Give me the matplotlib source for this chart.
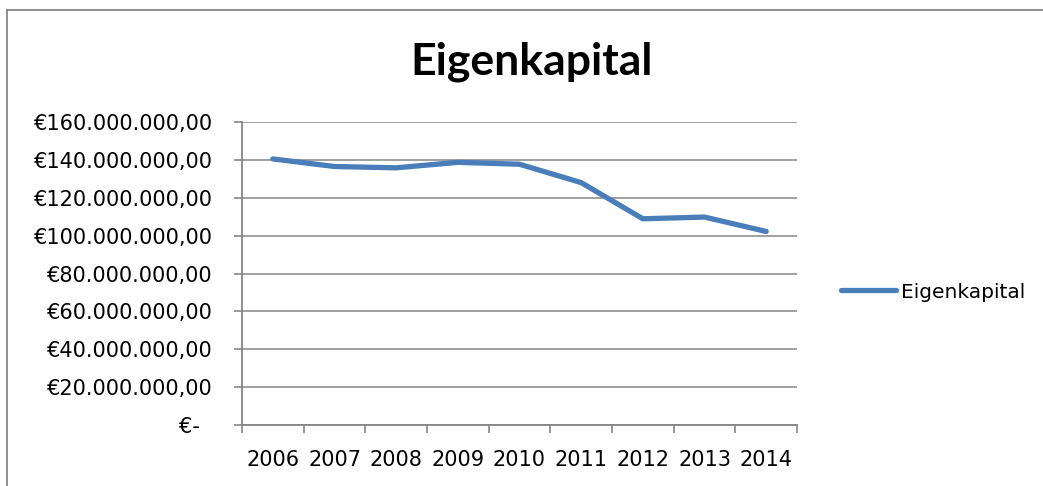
import matplotlib
matplotlib.use("Agg")
import matplotlib.pyplot as plt
from matplotlib.lines import Line2D

# data
years = ["2006", "2007", "2008", "2009", "2010", "2011", "2012", "2013", "2014"]
eigenkapital = [140.5e6, 136.5e6, 135.8e6, 138.7e6, 137.7e6, 128.0e6, 108.9e6, 109.8e6, 102.2e6]
y_ticks = [0, 20e6, 40e6, 60e6, 80e6, 100e6, 120e6, 140e6, 160e6]

plt.rcParams["font.family"] = ["DejaVu Sans"]

def euro(v):
    if v == 0:
        return "€-  "
    s = f"{v:,.2f}"  # 160,000,000.00
    s = s.replace(",", "X").replace(".", ",").replace("X", ".")
    return "€" + s

W, H = 1043, 486
fig = plt.figure(figsize=(W / 100, H / 100), dpi=100)
ax = fig.add_axes([242 / W, 1 - 425 / H, (797 - 242) / W, (425 - 122) / H])

xs = list(range(len(years)))
line, = ax.plot(xs, eigenkapital, color="#4a7ebb", lw=3.8, solid_capstyle="round",
                solid_joinstyle="round", label="Eigenkapital")

ax.set_xlim(-0.5, len(years) - 0.5)
ax.set_ylim(0, 160e6)
ax.set_yticks(y_ticks)
ax.set_yticklabels([euro(v) for v in y_ticks], fontsize=15)
ax.set_xticks(xs)
ax.set_xticklabels(years, fontsize=15)
ax.tick_params(axis="x", length=0, pad=18)
ax.set_xticks([i - 0.5 for i in range(len(years) + 1)], minor=True)
ax.tick_params(axis="x", which="minor", length=6, width=1.2, color="#868686", direction="out")
ax.tick_params(axis="y", length=6, width=1.2, color="#868686", direction="out", pad=15)

ax.grid(axis="y", color="#868686", lw=1.1)
ax.set_axisbelow(True)
for side in ["top", "right"]:
    ax.spines[side].set_visible(False)
for side in ["left", "bottom"]:
    ax.spines[side].set_color("#868686")
    ax.spines[side].set_linewidth(1.3)

fig.text(532 / W, 1 - 75 / H, "Eigenkapital", fontsize=32, fontweight="bold",
         family="Lato", ha="center", va="baseline")

fig.legend(handles=[line], loc="center left", bbox_to_anchor=(823 / W, 1 - 292 / H),
           frameon=False, fontsize=14.5, handlelength=2.7, handletextpad=0.25)

# chart frame (left and top edges visible)
fig.add_artist(Line2D([6.5 / W, 6.5 / W], [0, 1 - 10.5 / H], transform=fig.transFigure,
                      color="#868686", lw=1.3))
fig.add_artist(Line2D([6.5 / W, 1], [1 - 10.5 / H, 1 - 10.5 / H], transform=fig.transFigure,
                      color="#868686", lw=1.3))

fig.savefig("out.png", dpi=100)
